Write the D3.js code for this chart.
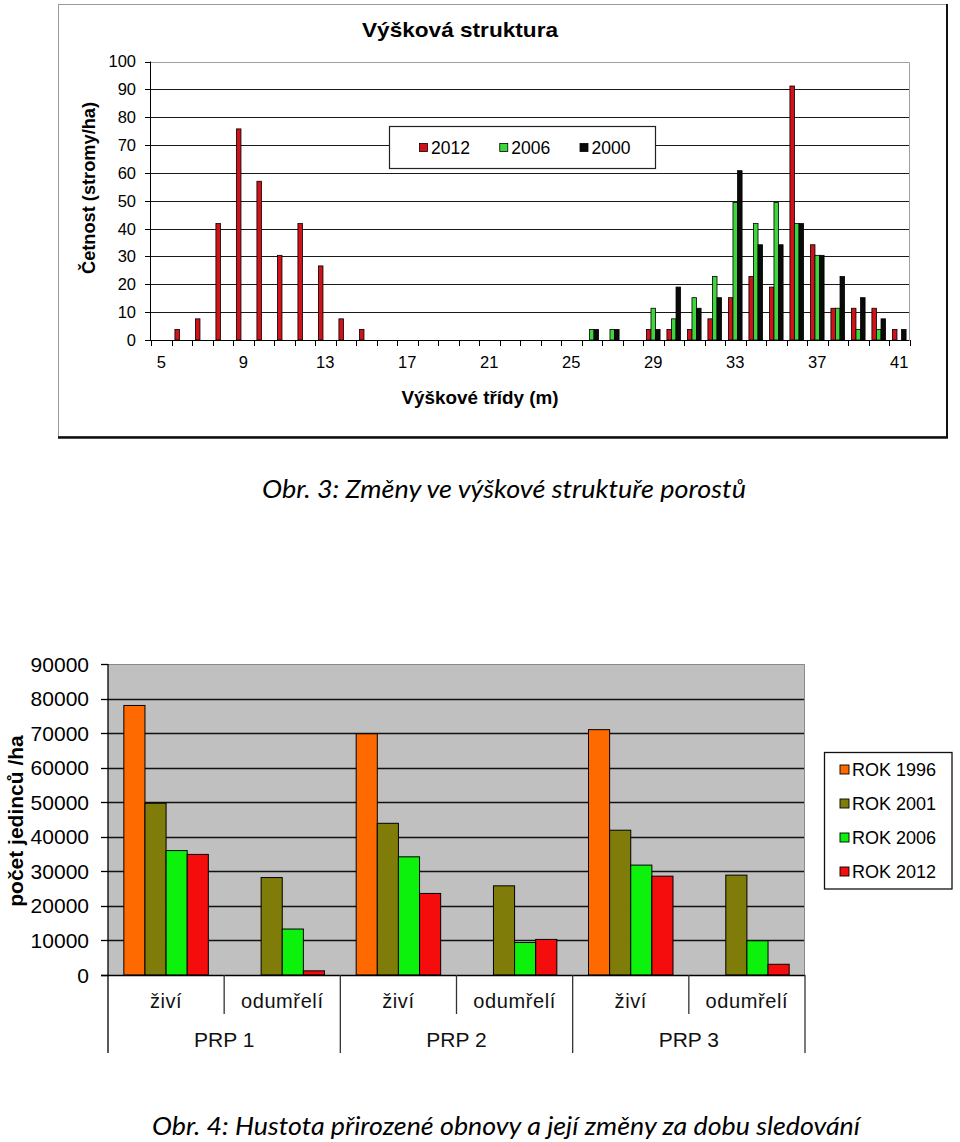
<!DOCTYPE html>
<html><head><meta charset="utf-8">
<script src="https://cdn.jsdelivr.net/npm/d3@7"></script>
<style>body{margin:0;background:#fff}svg{display:block}</style>
</head><body><svg id="c" width="960" height="1142"></svg>
<script>
// ---------- Chart 1 data: Výšková struktura ----------
const heightClasses = [5,6,7,8,9,10,11,12,13,14,15,16,17,18,19,20,21,22,23,24,25,26,27,28,29,30,31,32,33,34,35,36,37,38,39,40,41];
const series2012 = [0,3.8,7.6,41.8,75.8,57,30.4,41.8,26.6,7.6,3.8,0,0,0,0,0,0,0,0,0,0,0,0,0,3.8,3.8,3.8,7.6,15.2,22.8,19,91.2,34.2,11.4,11.4,11.4,3.8];
const series2006 = [0,0,0,0,0,0,0,0,0,0,0,0,0,0,0,0,0,0,0,0,0,3.8,3.8,0,11.4,7.6,15.2,22.8,49.4,41.8,49.4,41.8,30.4,11.4,3.8,3.8,0];
const series2000 = [0,0,0,0,0,0,0,0,0,0,0,0,0,0,0,0,0,0,0,0,0,3.8,3.8,0,3.8,19,11.4,15.2,60.8,34.2,34.2,41.8,30.4,22.8,15.2,7.6,3.8];
const topSeriesNames = ["2012","2006","2000"];
const topYTicks = [0,10,20,30,40,50,60,70,80,90,100];
const topXTickLabels = [5,9,13,17,21,25,29,33,37,41];

// ---------- Chart 2 data: Hustota přirozené obnovy ----------
const plots = ["PRP 1","PRP 2","PRP 3"];
const states = ["živí","odumřelí"];
const rok1996 = [78000,0,69800,0,71000,0];
const rok2001 = [49700,28200,43900,25800,41900,28900];
const rok2006 = [36000,13300,34200,9400,31800,9900];
const rok2012 = [34900,1200,23600,10300,28600,3100];
const bottomSeriesNames = ["ROK 1996","ROK 2001","ROK 2006","ROK 2012"];
const bottomYTicks = [0,10000,20000,30000,40000,50000,60000,70000,80000,90000];

const svg = d3.select("#c");
const F = "'Liberation Sans', Arial, sans-serif";

// =============== Chart 1 ===============
const g1 = svg.append("g");
g1.append("rect").attr("x",58.5).attr("y",4.5).attr("width",888).attr("height",432)
  .attr("fill","#fff").attr("stroke","#9a9a9a");
g1.append("line").attr("x1",947).attr("x2",947).attr("y1",4).attr("y2",438).attr("stroke","#111").attr("stroke-width",2);
g1.append("line").attr("x1",58).attr("x2",948).attr("y1",437.5).attr("y2",437.5).attr("stroke","#111").attr("stroke-width",2.5);

const x1 = d3.scaleBand().domain(heightClasses).range([151, 909.5]);
const y1 = d3.scaleLinear().domain([0,100]).range([340, 61.5]);
const bw1 = x1.bandwidth();
const sub1 = d3.scaleBand().domain(topSeriesNames).range([bw1/6, bw1*5/6]);
const topColors = {"2012":"#d0121a","2006":"#3fd63c","2000":"#0a0a0a"};

// grid
g1.append("g").selectAll("line").data(topYTicks.filter(d=>d>0 && d<100)).join("line")
  .attr("x1",151).attr("x2",909.5).attr("y1",d=>Math.round(y1(d))+0.5).attr("y2",d=>Math.round(y1(d))+0.5)
  .attr("stroke","#1a1a1a").attr("stroke-width",1.2);
g1.append("path").attr("d",`M151,${Math.round(y1(100))+0.5}H909.5V340`).attr("fill","none").attr("stroke","#a0a0a0");

// bars
const topData = [];
heightClasses.forEach((c,i)=>{
  topData.push({c,s:"2012",v:series2012[i]});
  topData.push({c,s:"2006",v:series2006[i]});
  topData.push({c,s:"2000",v:series2000[i]});
});
g1.append("g").selectAll("rect").data(topData.filter(d=>d.v>0)).join("rect")
  .attr("x",d=>x1(d.c)+sub1(d.s)).attr("width",sub1.bandwidth())
  .attr("y",d=>y1(d.v)).attr("height",d=>y1(0)-y1(d.v))
  .attr("fill",d=>topColors[d.s]).attr("stroke","#000").attr("stroke-width",0.8);

// axes
g1.append("line").attr("x1",150.5).attr("x2",150.5).attr("y1",y1(100)).attr("y2",340).attr("stroke","#000");
g1.append("line").attr("x1",145).attr("x2",909.5).attr("y1",340.5).attr("y2",340.5).attr("stroke","#000");
g1.append("g").selectAll("line").data(topYTicks).join("line")
  .attr("x1",145).attr("x2",151).attr("y1",d=>Math.round(y1(d))+0.5).attr("y2",d=>Math.round(y1(d))+0.5).attr("stroke","#000");
g1.append("g").selectAll("text").data(topYTicks).join("text")
  .attr("x",136).attr("y",d=>y1(d)).attr("dy","0.36em").attr("text-anchor","end")
  .attr("font-family",F).attr("font-size",16.5).attr("fill","#000").text(d=>d);
const xTickPos = heightClasses.map(c=>x1(c)).concat([x1.range()[1]]);
g1.append("g").selectAll("line").data(xTickPos).join("line")
  .attr("x1",d=>Math.round(d)+0.5).attr("x2",d=>Math.round(d)+0.5).attr("y1",340).attr("y2",346).attr("stroke","#000");
g1.append("g").selectAll("text").data(topXTickLabels).join("text")
  .attr("x",d=>x1(d)+bw1/2).attr("y",362).attr("dy","0.36em").attr("text-anchor","middle")
  .attr("font-family",F).attr("font-size",16.5).attr("fill","#000").text(d=>d);

// titles
g1.append("text").attr("x",460).attr("y",37).attr("text-anchor","middle")
  .attr("font-family",F).attr("font-weight","bold").attr("font-size",21)
  .attr("textLength",196).attr("lengthAdjust","spacingAndGlyphs").text("Výšková struktura");
g1.append("text").attr("x",480).attr("y",404).attr("text-anchor","middle")
  .attr("font-family",F).attr("font-weight","bold").attr("font-size",18)
  .attr("textLength",157).attr("lengthAdjust","spacingAndGlyphs").text("Výškové třídy (m)");
g1.append("text").attr("transform","translate(95,188) rotate(-90)").attr("text-anchor","middle")
  .attr("font-family",F).attr("font-weight","bold").attr("font-size",18)
  .attr("textLength",172).attr("lengthAdjust","spacingAndGlyphs").text("Četnost (stromy/ha)");

// legend
const lg1 = g1.append("g");
lg1.append("rect").attr("x",389.5).attr("y",126.5).attr("width",266).attr("height",42).attr("fill","#fff").attr("stroke","#222").attr("stroke-width",1.2);
const lgX1 = d3.scalePoint().domain(topSeriesNames).range([419.5,580]);
lg1.selectAll("rect.sw").data(topSeriesNames).join("rect").attr("class","sw")
  .attr("x",d=>lgX1(d)).attr("y",143.5).attr("width",8).attr("height",8)
  .attr("fill",d=>topColors[d]).attr("stroke","#000").attr("stroke-width",0.8);
lg1.selectAll("text").data(topSeriesNames).join("text")
  .attr("x",d=>lgX1(d)+11.5).attr("y",148).attr("dy","0.36em")
  .attr("font-family",F).attr("font-size",17.5).attr("fill","#000").text(d=>d);

// caption 1
svg.append("text").attr("x",262).attr("y",498)
  .attr("font-family","Lato, 'Open Sans', sans-serif").attr("font-style","italic").attr("font-size",25)
  .attr("textLength",484).attr("lengthAdjust","spacingAndGlyphs").attr("fill","#000")
  .text("Obr. 3: Změny ve výškové struktuře porostů");

// =============== Chart 2 ===============
const g2 = svg.append("g");
const cats = [];
plots.forEach(p=>states.forEach(s=>cats.push({p,s})));
const catIdx = cats.map((d,i)=>i);
const x2 = d3.scaleBand().domain(catIdx).range([108,805]);
const y2 = d3.scaleLinear().domain([0,90000]).range([975,664]);
const bw2 = x2.bandwidth();
const sub2 = d3.scaleBand().domain(bottomSeriesNames).range([bw2*0.75/5.5, bw2*(0.75+4)/5.5]);
const botColors = {"ROK 1996":"#ff6a00","ROK 2001":"#807c0a","ROK 2006":"#0df20d","ROK 2012":"#f50c0c"};
const botVals = {"ROK 1996":rok1996,"ROK 2001":rok2001,"ROK 2006":rok2006,"ROK 2012":rok2012};

g2.append("rect").attr("x",108).attr("y",y2(90000)).attr("width",805-108).attr("height",y2(0)-y2(90000)).attr("fill","#c0c0c0");
g2.append("g").selectAll("line").data(bottomYTicks.filter(d=>d>0&&d<90000)).join("line")
  .attr("x1",108).attr("x2",805).attr("y1",d=>Math.round(y2(d))+0.5).attr("y2",d=>Math.round(y2(d))+0.5)
  .attr("stroke","#111").attr("stroke-width",1.4);
g2.append("path").attr("d",`M108,${Math.round(y2(90000))+0.5}H804.5V975`).attr("fill","none").attr("stroke","#8a8a8a");

const botData = [];
catIdx.forEach(i=>bottomSeriesNames.forEach(s=>botData.push({i,s,v:botVals[s][i]})));
g2.append("g").selectAll("rect").data(botData.filter(d=>d.v>0)).join("rect")
  .attr("x",d=>x2(d.i)+sub2(d.s)).attr("width",sub2.bandwidth())
  .attr("y",d=>y2(d.v)).attr("height",d=>y2(0)-y2(d.v))
  .attr("fill",d=>botColors[d.s]).attr("stroke","#000").attr("stroke-width",1);

// axes
g2.append("line").attr("x1",108).attr("x2",108).attr("y1",y2(90000)).attr("y2",1053).attr("stroke","#000").attr("stroke-width",1.3);
g2.append("line").attr("x1",101).attr("x2",805).attr("y1",975.5).attr("y2",975.5).attr("stroke","#000").attr("stroke-width",1.3);
g2.append("g").selectAll("line").data(bottomYTicks).join("line")
  .attr("x1",101).attr("x2",108).attr("y1",d=>Math.round(y2(d))+0.5).attr("y2",d=>Math.round(y2(d))+0.5).attr("stroke","#000").attr("stroke-width",1.3);
g2.append("g").selectAll("text").data(bottomYTicks).join("text")
  .attr("x",89).attr("y",d=>y2(d)).attr("dy","0.36em").attr("text-anchor","end")
  .attr("font-family",F).attr("font-size",21).attr("fill","#000").text(d=>d);
const bounds = catIdx.map(i=>x2(i)).concat([805]);
g2.append("g").selectAll("line").data(bounds.slice(1)).join("line")
  .attr("x1",d=>d).attr("x2",d=>d).attr("y1",975)
  .attr("y2",(d,i)=>((i+1)%2===0)?1053:1014).attr("stroke","#333").attr("stroke-width",1.3);
g2.append("g").selectAll("text").data(cats).join("text")
  .attr("x",(d,i)=>x2(i)+bw2/2).attr("y",1001).attr("dy","0.36em").attr("text-anchor","middle")
  .attr("font-family",F).attr("font-size",20).attr("letter-spacing",0.6).attr("fill","#111").text(d=>d.s);
g2.append("g").selectAll("text").data(plots).join("text")
  .attr("x",(d,i)=>x2(i*2+1)).attr("y",1039).attr("dy","0.36em").attr("text-anchor","middle")
  .attr("font-family",F).attr("font-size",21).attr("fill","#111").text(d=>d);
g2.append("text").attr("transform","translate(15,821) rotate(-90)").attr("text-anchor","middle").attr("dy","0.36em")
  .attr("font-family",F).attr("font-weight","bold").attr("font-size",21).attr("fill","#000").text("počet jedinců /ha");

// legend
const lg2 = g2.append("g");
lg2.append("rect").attr("x",824.5).attr("y",752.5).attr("width",127.5).attr("height",136.5).attr("fill","#fff").attr("stroke","#111").attr("stroke-width",1.3);
const lgY2 = d3.scalePoint().domain(bottomSeriesNames).range([769.5,871.5]);
lg2.selectAll("rect.sw").data(bottomSeriesNames).join("rect").attr("class","sw")
  .attr("x",840).attr("y",d=>lgY2(d)-4.5).attr("width",9).attr("height",9)
  .attr("fill",d=>botColors[d]).attr("stroke","#000").attr("stroke-width",0.9);
lg2.selectAll("text").data(bottomSeriesNames).join("text")
  .attr("x",852).attr("y",d=>lgY2(d)).attr("dy","0.36em")
  .attr("font-family",F).attr("font-size",18).attr("fill","#000").text(d=>d);

// caption 2
svg.append("text").attr("x",152).attr("y",1135)
  .attr("font-family","Lato, 'Open Sans', sans-serif").attr("font-style","italic").attr("font-size",25)
  .attr("textLength",708).attr("lengthAdjust","spacingAndGlyphs").attr("fill","#000")
  .text("Obr. 4: Hustota přirozené obnovy a její změny za dobu sledování");
</script></body></html>
